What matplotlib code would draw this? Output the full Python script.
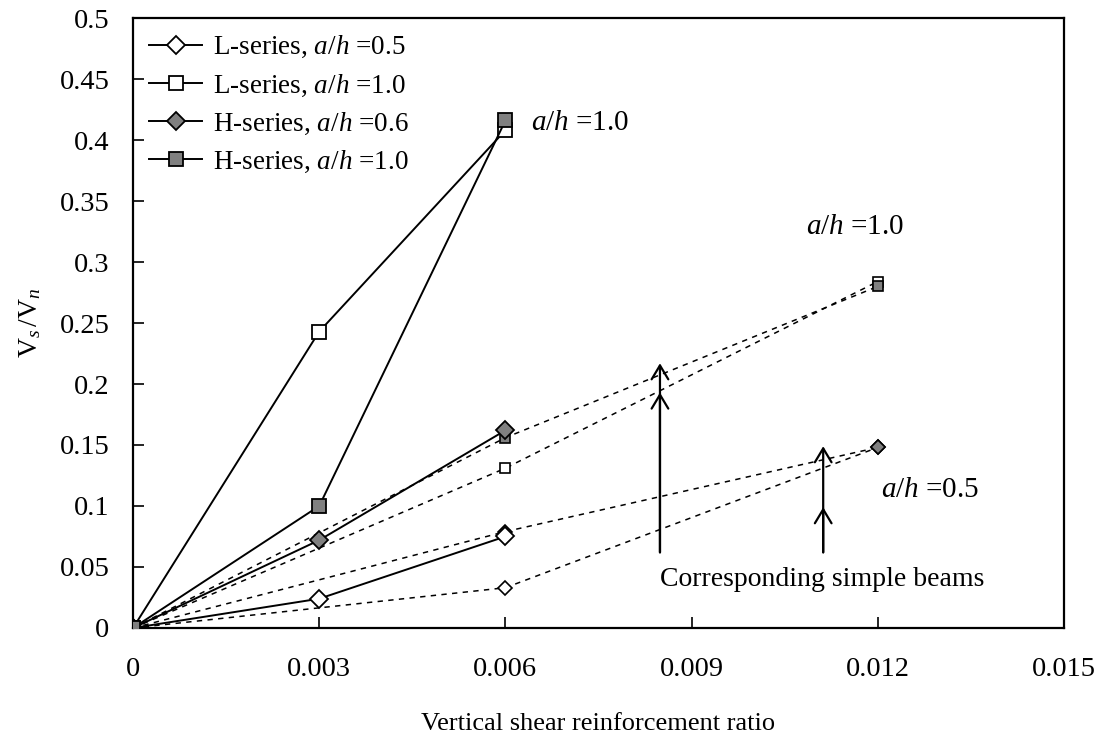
import matplotlib
matplotlib.use("Agg")
import matplotlib.pyplot as plt

# 字体：Times 风格（Liberation Serif），斜体用于 a/h
plt.rcParams["font.family"] = ["Liberation Serif", "DejaVu Serif"]
plt.rcParams["mathtext.fontset"] = "custom"
plt.rcParams["mathtext.rm"] = "Liberation Serif"
plt.rcParams["mathtext.it"] = "Liberation Serif:italic"

# tested deep beams (solid lines)
x_tested = [0, 0.003, 0.006]
l_series_05 = [0, 0.024, 0.075]
l_series_10 = [0, 0.243, 0.408]
h_series_06 = [0, 0.072, 0.162]
h_series_10 = [0, 0.100, 0.416]

# corresponding simple beams (dotted lines)
x_simple = [0, 0.006, 0.012]
l_simple_05 = [0, 0.033, 0.148]
l_simple_10 = [0, 0.131, 0.284]
h_simple_06 = [0, 0.079, 0.148]
h_simple_10 = [0, 0.156, 0.280]

legend_labels = [
    "L-series, $a/h$ =0.5",
    "L-series, $a/h$ =1.0",
    "H-series, $a/h$ =0.6",
    "H-series, $a/h$ =1.0",
]

x_ticks = [0, 0.003, 0.006, 0.009, 0.012, 0.015]
x_tick_labels = ["0", "0.003", "0.006", "0.009", "0.012", "0.015"]
y_ticks = [0, 0.05, 0.1, 0.15, 0.2, 0.25, 0.3, 0.35, 0.4, 0.45, 0.5]
y_tick_labels = ["0", "0.05", "0.1", "0.15", "0.2", "0.25", "0.3", "0.35", "0.4", "0.45", "0.5"]

# arrows pointing at the simple-beam curves: (x, bottom, heads...)
arrows = [
    (0.00849, 0.062, [0.217, 0.193]),
    (0.01112, 0.062, [0.149, 0.099]),
]

GRAY = "#808080"

fig = plt.figure(figsize=(11.05, 7.51), dpi=100)
ax = fig.add_axes([0.1204, 0.1638, 0.8425, 0.8122])

# simple beams first (underneath)
dot = dict(color="black", lw=1.1, linestyle=(0, (3.5, 3.5)), markeredgecolor="black",
           markeredgewidth=1.2, markersize=7, zorder=2)
ax.plot(x_simple, l_simple_05, marker="D", markerfacecolor="white", **dot)
ax.plot(x_simple, h_simple_06, marker="D", markerfacecolor=GRAY, **dot)
ax.plot(x_simple, l_simple_10, marker="s", markerfacecolor="white", **dot)
ax.plot(x_simple, h_simple_10, marker="s", markerfacecolor=GRAY, **dot)

solid = dict(color="black", lw=1.4, markeredgecolor="black", markeredgewidth=1.3, zorder=3)
ax.plot(x_tested, l_series_05, marker="D", markerfacecolor="white", markersize=9,
        label=legend_labels[0], **solid)
ax.plot(x_tested, l_series_10, marker="s", markerfacecolor="white", markersize=9.5,
        label=legend_labels[1], **solid)
ax.plot(x_tested, h_series_06, marker="D", markerfacecolor=GRAY, markersize=9,
        label=legend_labels[2], **solid)
ax.plot(x_tested, h_series_10, marker="s", markerfacecolor=GRAY, markersize=10,
        label=legend_labels[3], **solid)

for x, y0, heads in arrows:
    for yh in heads:
        ax.annotate("", xy=(x, yh), xytext=(x, y0),
                    arrowprops=dict(arrowstyle="->,head_length=0.5,head_width=0.3",
                                    lw=1.6, color="black", shrinkA=0, shrinkB=0,
                                    mutation_scale=20))

ax.text(0.0072, 0.414, "$a/h$ =1.0", fontsize=21, ha="center", va="center")
ax.text(0.01163, 0.329, "$a/h$ =1.0", fontsize=21, ha="center", va="center")
ax.text(0.01284, 0.113, "$a/h$ =0.5", fontsize=21, ha="center", va="center")
ax.text(0.0111, 0.040, "Corresponding simple beams", fontsize=20, ha="center", va="center")

ax.set_xlim(0, 0.015)
ax.set_ylim(0, 0.5)
ax.set_xticks(x_ticks)
ax.set_xticklabels(x_tick_labels)
ax.set_yticks(y_ticks)
ax.set_yticklabels(y_tick_labels)
ax.tick_params(axis="both", direction="in", length=8, width=1.2, labelsize=20.5)
ax.tick_params(axis="x", pad=21)
ax.tick_params(axis="y", pad=17)
for sp in ax.spines.values():
    sp.set_linewidth(1.6)

ax.set_xlabel("Vertical shear reinforcement ratio", fontsize=19, labelpad=22)
ax.set_ylabel(r"$\mathrm{V}_{s}\,/\mathrm{V}_{n}$", fontsize=20, labelpad=12)

ax.legend(loc="upper left", bbox_to_anchor=(0, 1), frameon=False, fontsize=19.5,
          numpoints=1, handlelength=1.96, handletextpad=0.4, labelspacing=0.44,
          borderaxespad=0.2, borderpad=0.4)

fig.savefig("out.png", dpi=100)
